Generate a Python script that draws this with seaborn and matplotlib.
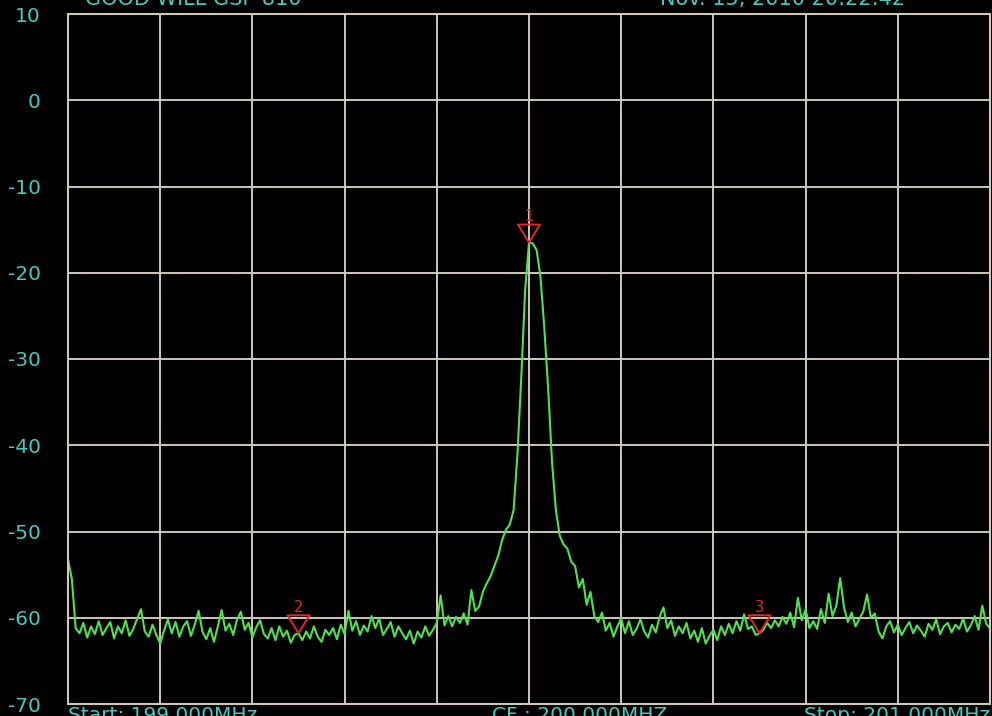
import matplotlib
matplotlib.use('Agg')
import matplotlib.pyplot as plt
import matplotlib.transforms as mtransforms
from matplotlib.path import Path
import numpy as np
import pandas as pd
import seaborn as sns

# sweep settings (MHz)
start_mhz = 199.0
stop_mhz = 201.0
center_mhz = 200.0

# trace levels in dBm, one per sweep point
trace_dbm = [
    -53.2, -55.5, -61.2, -61.8, -60.6, -62.3, -61.0, -61.9, -60.4, -62.0,
    -61.2, -60.5, -62.4, -61.0, -61.8, -60.3, -62.1, -61.3, -60.1, -59.0,
    -61.6, -62.2, -60.8, -62.0, -63.0, -61.5, -60.2, -61.8, -60.5, -62.2,
    -61.0, -60.4, -62.1, -60.8, -59.2, -61.6, -62.5, -61.2, -62.8, -61.0,
    -59.1, -61.5, -60.7, -62.0, -60.2, -59.3, -61.4, -60.6, -62.3, -61.1,
    -60.3, -61.9, -62.4, -61.2, -62.6, -61.0, -62.2, -61.5, -62.9, -62.0,
    -61.8, -62.6, -61.6, -62.4, -61.0, -62.2, -62.8, -61.4, -62.0, -61.2,
    -62.5, -60.8, -61.9, -59.2, -61.5, -60.4, -62.0, -60.9, -61.6, -59.8,
    -61.2, -60.1, -62.0, -61.3, -60.5, -62.2, -61.0, -61.8, -62.5, -61.5,
    -63.0, -61.6, -62.3, -61.0, -62.1, -61.4, -60.6, -57.4, -60.9, -59.8,
    -61.0, -59.9, -60.6, -59.5, -60.8, -56.8, -59.2, -58.7, -57.0, -56.0,
    -55.2, -54.0, -52.8, -51.0, -49.8, -49.2, -47.5, -41.0, -32.0, -22.0,
    -16.5, -16.6, -17.4, -20.5, -26.5, -33.5, -42.0, -47.5, -50.5, -51.5,
    -52.0, -53.5, -54.0, -56.5, -55.5, -58.5, -57.0, -59.8, -60.5, -59.4,
    -61.5, -60.6, -62.2, -61.0, -60.1, -61.8, -60.4, -62.0, -61.3, -60.2,
    -61.6, -62.3, -60.8, -61.7, -59.9, -58.8, -61.2, -60.3, -62.1, -61.0,
    -61.8, -60.6, -62.4, -61.5, -62.8, -61.2, -63.0, -62.1, -61.4, -62.6,
    -61.0, -62.0, -60.7, -61.8, -60.4, -61.5, -59.6, -61.3, -61.0, -62.0,
    -61.8, -61.4, -60.6, -61.2, -60.3, -61.0, -59.9, -60.7, -59.4, -61.1,
    -57.7, -60.3, -59.0, -61.2, -60.4, -61.3, -59.0, -60.6, -57.2, -59.8,
    -58.6, -55.4, -58.8, -60.5, -59.4, -61.0, -60.1, -59.3, -57.3, -60.0,
    -59.5, -61.6, -62.4, -61.0, -60.4, -61.7, -60.8, -62.0, -61.2, -60.5,
    -61.8, -60.9, -61.5, -62.2, -60.7, -61.4, -60.2, -61.9, -61.0, -60.6,
    -61.7, -60.8, -61.3, -60.1, -61.6, -60.9, -59.8, -61.4, -58.6, -60.7,
    -61.2,
]

marker_ids = ['1', '2', '3']
marker_mhz = [200.0, 199.5, 200.5]

y_ticks = [10, 0, -10, -20, -30, -40, -50, -60, -70]

title_left = 'GOOD WILL GSP-810'
title_right = 'Nov. 15, 2010 20:22:42'
start_text = 'Start: 199.000MHz'
center_text = 'CF : 200.000MHZ'
stop_text = 'Stop: 201.000MHz'

GRID = '#cfc8b8'
TRACE = '#52e052'
RED = '#e02828'
CYAN = '#48c8c0'


def main():
    sns.set_theme(style='dark', rc={
        'axes.facecolor': 'black',
        'figure.facecolor': 'black',
        'axes.edgecolor': GRID,
        'axes.linewidth': 1.5,
        'axes.grid': True,
        'grid.color': GRID,
        'grid.linewidth': 1.4,
    })
    plt.rcParams['font.family'] = ['DejaVu Sans']

    fig = plt.figure(figsize=(9.92, 7.16), dpi=100)
    ax = fig.add_axes([68 / 992, 12 / 716, 922 / 992, 690 / 716])

    freq = np.linspace(start_mhz, stop_mhz, len(trace_dbm))
    df = pd.DataFrame({'freq': freq, 'level': trace_dbm})
    sns.lineplot(data=df, x='freq', y='level', color=TRACE, linewidth=1.5, ax=ax)

    ax.set_xlim(start_mhz, stop_mhz)
    ax.set_ylim(y_ticks[-1], y_ticks[0])
    ax.set_xticks(np.linspace(start_mhz, stop_mhz, 11))
    ax.set_xticklabels([])
    ax.set_yticks(y_ticks)
    ax.set_yticklabels([str(v) for v in y_ticks])
    ax.tick_params(axis='y', length=0, pad=19.5, labelcolor=CYAN, labelsize=14.5)
    ax.tick_params(axis='x', length=0)
    ax.set_xlabel('')
    ax.set_ylabel('')
    for sp in ax.spines.values():
        sp.set_visible(True)
        sp.set_color(GRID)

    # marker triangles sit with the tip on the trace
    tri = Path([(-11, 9), (11, 9), (0, -9), (-11, 9)],
               [Path.MOVETO, Path.LINETO, Path.LINETO, Path.CLOSEPOLY])
    up = mtransforms.offset_copy(ax.transData, fig=fig, x=0, y=6.5, units='points')
    for mid, f in zip(marker_ids, marker_mhz):
        i = int(np.argmin(np.abs(freq - f)))
        lvl = trace_dbm[i]
        ax.scatter([freq[i]], [lvl], marker=tri, s=250, facecolors='none',
                   edgecolors=RED, linewidths=1.4, transform=up, zorder=5)
        ax.annotate(mid, (freq[i], lvl), xytext=(0, 13.5), textcoords='offset points',
                    ha='center', va='bottom', color=RED, fontsize=10.5)

    fig.text(85 / 992, 711 / 716, title_left, color=CYAN, fontsize=15,
             ha='left', va='baseline')
    fig.text(660 / 992, 711 / 716, title_right, color=CYAN, fontsize=15,
             ha='left', va='baseline')
    fig.text(68 / 992, 10 / 716, start_text, color=CYAN, fontsize=14.5,
             ha='left', va='top')
    fig.text(492 / 992, 10 / 716, center_text, color=CYAN, fontsize=14.5,
             ha='left', va='top')
    fig.text(804 / 992, 10 / 716, stop_text, color=CYAN, fontsize=14.5,
             ha='left', va='top')

    fig.savefig('out.png', dpi=100, facecolor='black')


if __name__ == '__main__':
    main()
